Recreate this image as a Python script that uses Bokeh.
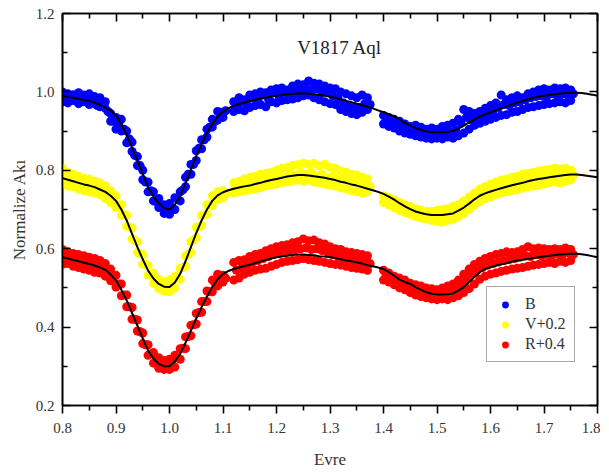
from bokeh.plotting import figure
from bokeh.models import (Range1d, LinearAxis, FixedTicker, PrintfTickFormatter,
                          CustomJSTickFormatter, Legend, LegendItem)
from bokeh.core.properties import value
from bokeh.embed import file_html
from bokeh.resources import INLINE

# ---------------- data ----------------
title_text = ["V1817 Aql"]
series_labels = ["B", "V+0.2", "R+0.4"]
x_label = "Evre"
y_label = "Normalize Akı"

x_ticks = [0.8, 0.9, 1.0, 1.1, 1.2, 1.3, 1.4, 1.5, 1.6, 1.7, 1.8]
x_minor = [0.85, 0.95, 1.05, 1.15, 1.25, 1.35, 1.45, 1.55, 1.65, 1.75]
y_ticks = [0.2, 0.4, 0.6, 0.8, 1.0, 1.2]
y_minor = [0.3, 0.5, 0.7, 0.9, 1.1]

phase = [0.80, 0.81, 0.82, 0.83, 0.84, 0.85, 0.86, 0.87, 0.88, 0.89,
         0.90, 0.91, 0.92, 0.93, 0.94, 0.95, 0.96, 0.97, 0.98, 0.99,
         1.00, 1.01, 1.02, 1.03, 1.04, 1.05, 1.06, 1.07, 1.08, 1.09, 1.10,
         1.12, 1.13, 1.14, 1.15, 1.16, 1.17, 1.18, 1.19, 1.20, 1.21, 1.22,
         1.23, 1.24, 1.25, 1.26, 1.27, 1.28, 1.29, 1.30, 1.31, 1.32, 1.33,
         1.34, 1.35, 1.36, 1.37,
         1.40, 1.41, 1.42, 1.43, 1.44, 1.45, 1.46, 1.47, 1.48, 1.49, 1.50,
         1.51, 1.52, 1.53, 1.54, 1.55, 1.56, 1.57, 1.58, 1.59, 1.60, 1.61,
         1.62, 1.63, 1.64, 1.65, 1.66, 1.67, 1.68, 1.69, 1.70, 1.71, 1.72,
         1.73, 1.74, 1.75]

phase_mid = [0.805, 0.815, 0.825, 0.835, 0.845, 0.855, 0.865, 0.875, 0.885, 0.895,
             0.905, 0.915, 0.925, 0.935, 0.945, 0.955, 0.965, 0.975, 0.985, 0.995,
             1.005, 1.015, 1.025, 1.035, 1.045, 1.055, 1.065, 1.075, 1.085, 1.095, 1.105,
             1.125, 1.135, 1.145, 1.155, 1.165, 1.175, 1.185, 1.195, 1.205, 1.215, 1.225,
             1.235, 1.245, 1.255, 1.265, 1.275, 1.285, 1.295, 1.305, 1.315, 1.325, 1.335,
             1.345, 1.355, 1.365, 1.375,
             1.405, 1.415, 1.425, 1.435, 1.445, 1.455, 1.465, 1.475, 1.485, 1.495, 1.505,
             1.515, 1.525, 1.535, 1.545, 1.555, 1.565, 1.575, 1.585, 1.595, 1.605, 1.615,
             1.625, 1.635, 1.645, 1.655, 1.665, 1.675, 1.685, 1.695, 1.705, 1.715, 1.725,
             1.735, 1.745, 1.755]

B_hi = [1.000, 0.995, 0.993, 0.998, 0.992, 0.995, 0.988, 0.985, 0.975, 0.945,
        0.935, 0.930, 0.900, 0.872, 0.835, 0.800, 0.770, 0.745, 0.728, 0.712,
        0.715, 0.730, 0.745, 0.782, 0.815, 0.850, 0.878, 0.905, 0.930, 0.950, 0.945,
        0.975, 0.985, 0.980, 0.992, 0.995, 1.000, 0.998, 1.005, 1.008, 1.010, 1.005,
        1.015, 1.020, 1.018, 1.028, 1.022, 1.020, 1.015, 1.010, 1.008, 1.000, 0.995,
        0.990, 0.985, 0.992, 0.985,
        0.940, 0.935, 0.930, 0.925, 0.918, 0.912, 0.915, 0.910, 0.905, 0.908, 0.905,
        0.912, 0.915, 0.920, 0.930, 0.955, 0.950, 0.945, 0.950, 0.958, 0.965, 0.972,
        0.992, 0.980, 0.985, 0.990, 0.985, 0.995, 1.000, 1.005, 1.008, 1.005, 1.010,
        1.008, 1.010, 1.005]
B_mid = [0.992, 0.982, 0.988, 0.975, 0.983, 0.980, 0.965, 0.970, 0.950, 0.925,
         0.918, 0.905, 0.880, 0.838, 0.812, 0.770, 0.748, 0.720, 0.708, 0.698,
         0.702, 0.726, 0.750, 0.790, 0.815, 0.856, 0.878, 0.910, 0.925, 0.948, 0.952,
         0.960, 0.975, 0.968, 0.985, 0.978, 0.992, 0.982, 0.998, 0.988, 1.000, 0.995,
         1.005, 1.000, 1.010, 1.005, 1.008, 0.998, 1.000, 0.990, 0.985, 0.972, 0.965,
         0.962, 0.960, 0.970, 0.968,
         0.930, 0.922, 0.918, 0.910, 0.905, 0.900, 0.896, 0.893, 0.892, 0.894, 0.890,
         0.896, 0.898, 0.902, 0.920, 0.935, 0.928, 0.935, 0.940, 0.945, 0.952, 0.960,
         0.968, 0.965, 0.972, 0.975, 0.980, 0.985, 0.988, 0.990, 0.988, 0.995, 0.990,
         0.995, 0.992, 0.995]
B_lo = [0.975, 0.972, 0.978, 0.970, 0.975, 0.968, 0.970, 0.962, 0.958, 0.925,
        0.905, 0.900, 0.870, 0.848, 0.812, 0.776, 0.745, 0.722, 0.705, 0.690,
        0.688, 0.700, 0.722, 0.758, 0.790, 0.825, 0.855, 0.885, 0.910, 0.928, 0.935,
        0.950, 0.955, 0.952, 0.960, 0.965, 0.968, 0.962, 0.975, 0.972, 0.978, 0.980,
        0.982, 0.985, 0.990, 0.992, 0.985, 0.980, 0.975, 0.970, 0.968, 0.955, 0.950,
        0.945, 0.942, 0.948, 0.955,
        0.918, 0.912, 0.908, 0.900, 0.895, 0.892, 0.888, 0.885, 0.882, 0.880, 0.882,
        0.880, 0.885, 0.882, 0.888, 0.895, 0.905, 0.915, 0.920, 0.925, 0.930, 0.935,
        0.940, 0.942, 0.948, 0.950, 0.955, 0.960, 0.962, 0.965, 0.968, 0.970, 0.972,
        0.975, 0.972, 0.978]

V_hi = [0.805, 0.795, 0.790, 0.785, 0.780, 0.778, 0.772, 0.768, 0.760, 0.748,
        0.735, 0.712, 0.685, 0.652, 0.618, 0.585, 0.558, 0.538, 0.522, 0.515,
        0.520, 0.530, 0.550, 0.582, 0.618, 0.655, 0.685, 0.712, 0.735, 0.745, 0.748,
        0.768, 0.772, 0.778, 0.782, 0.785, 0.790, 0.792, 0.795, 0.800, 0.805, 0.808,
        0.812, 0.815, 0.818, 0.815, 0.818, 0.812, 0.815, 0.808, 0.805, 0.798, 0.795,
        0.790, 0.788, 0.782, 0.778,
        0.735, 0.730, 0.725, 0.718, 0.712, 0.708, 0.702, 0.698, 0.695, 0.695, 0.698,
        0.700, 0.702, 0.708, 0.712, 0.722, 0.732, 0.742, 0.752, 0.758, 0.765, 0.770,
        0.775, 0.778, 0.782, 0.785, 0.790, 0.792, 0.795, 0.798, 0.800, 0.802, 0.805,
        0.803, 0.805, 0.800]
V_mid = [0.782, 0.776, 0.772, 0.765, 0.764, 0.758, 0.755, 0.750, 0.742, 0.728,
         0.712, 0.688, 0.655, 0.622, 0.588, 0.560, 0.535, 0.518, 0.505, 0.502,
         0.508, 0.525, 0.552, 0.586, 0.622, 0.656, 0.686, 0.711, 0.729, 0.738, 0.740,
         0.756, 0.760, 0.765, 0.762, 0.772, 0.768, 0.780, 0.775, 0.785, 0.782, 0.792,
         0.788, 0.795, 0.790, 0.795, 0.785, 0.790, 0.780, 0.785, 0.775, 0.778, 0.768,
         0.770, 0.762, 0.765, 0.758,
         0.728, 0.722, 0.715, 0.708, 0.702, 0.695, 0.690, 0.686, 0.684, 0.682, 0.684,
         0.686, 0.690, 0.695, 0.702, 0.710, 0.722, 0.732, 0.740, 0.745, 0.750, 0.755,
         0.760, 0.762, 0.765, 0.772, 0.775, 0.778, 0.782, 0.785, 0.785, 0.788, 0.790,
         0.790, 0.792, 0.788]
V_lo = [0.765, 0.760, 0.758, 0.752, 0.748, 0.745, 0.742, 0.738, 0.728, 0.718,
        0.705, 0.685, 0.658, 0.625, 0.590, 0.560, 0.532, 0.512, 0.498, 0.492,
        0.490, 0.500, 0.522, 0.555, 0.590, 0.628, 0.660, 0.688, 0.710, 0.725, 0.730,
        0.742, 0.745, 0.748, 0.750, 0.752, 0.755, 0.760, 0.762, 0.765, 0.768, 0.770,
        0.772, 0.775, 0.772, 0.775, 0.770, 0.768, 0.765, 0.762, 0.760, 0.755, 0.752,
        0.748, 0.745, 0.742, 0.745,
        0.718, 0.712, 0.705, 0.698, 0.692, 0.688, 0.682, 0.678, 0.675, 0.672, 0.670,
        0.668, 0.672, 0.675, 0.682, 0.690, 0.700, 0.712, 0.720, 0.728, 0.732, 0.738,
        0.742, 0.745, 0.748, 0.750, 0.755, 0.758, 0.760, 0.762, 0.765, 0.768, 0.770,
        0.768, 0.772, 0.775]

R_hi = [0.598, 0.592, 0.588, 0.585, 0.582, 0.578, 0.575, 0.570, 0.562, 0.548,
        0.532, 0.510, 0.482, 0.450, 0.418, 0.385, 0.355, 0.335, 0.322, 0.315,
        0.318, 0.328, 0.345, 0.375, 0.405, 0.435, 0.465, 0.492, 0.520, 0.535, 0.532,
        0.565, 0.570, 0.572, 0.580, 0.585, 0.588, 0.595, 0.600, 0.605, 0.608, 0.610,
        0.615, 0.618, 0.625, 0.620, 0.622, 0.615, 0.612, 0.605, 0.600, 0.598, 0.592,
        0.590, 0.588, 0.585, 0.582,
        0.545, 0.538, 0.530, 0.525, 0.520, 0.512, 0.508, 0.505, 0.500, 0.498, 0.495,
        0.500, 0.505, 0.510, 0.520, 0.535, 0.548, 0.560, 0.568, 0.575, 0.580, 0.585,
        0.588, 0.592, 0.590, 0.592, 0.598, 0.605, 0.600, 0.602, 0.600, 0.598, 0.600,
        0.598, 0.602, 0.598]
R_mid = [0.580, 0.575, 0.572, 0.568, 0.565, 0.560, 0.558, 0.552, 0.545, 0.528,
         0.510, 0.482, 0.452, 0.420, 0.388, 0.355, 0.332, 0.315, 0.303, 0.300,
         0.305, 0.322, 0.346, 0.376, 0.406, 0.437, 0.465, 0.490, 0.512, 0.528, 0.525,
         0.545, 0.550, 0.555, 0.565, 0.570, 0.575, 0.580, 0.585, 0.588, 0.590, 0.595,
         0.598, 0.600, 0.602, 0.598, 0.600, 0.595, 0.592, 0.585, 0.580, 0.575, 0.572,
         0.570, 0.568, 0.565, 0.562,
         0.532, 0.525, 0.518, 0.510, 0.505, 0.498, 0.492, 0.488, 0.485, 0.482, 0.485,
         0.488, 0.490, 0.498, 0.508, 0.520, 0.535, 0.545, 0.552, 0.558, 0.562, 0.566,
         0.570, 0.572, 0.575, 0.578, 0.582, 0.580, 0.585, 0.582, 0.585, 0.582, 0.588,
         0.585, 0.590, 0.585]
R_lo = [0.560, 0.562, 0.555, 0.552, 0.548, 0.545, 0.540, 0.538, 0.530, 0.518,
        0.502, 0.480, 0.452, 0.420, 0.390, 0.358, 0.328, 0.308, 0.295, 0.292,
        0.292, 0.298, 0.318, 0.345, 0.378, 0.408, 0.438, 0.465, 0.490, 0.505, 0.515,
        0.520, 0.525, 0.535, 0.540, 0.545, 0.548, 0.550, 0.555, 0.560, 0.565, 0.568,
        0.570, 0.572, 0.575, 0.572, 0.570, 0.568, 0.565, 0.562, 0.560, 0.558, 0.555,
        0.552, 0.550, 0.548, 0.545,
        0.520, 0.515, 0.508, 0.500, 0.495, 0.488, 0.482, 0.478, 0.475, 0.472, 0.470,
        0.472, 0.470, 0.475, 0.480, 0.488, 0.498, 0.510, 0.522, 0.530, 0.535, 0.538,
        0.542, 0.545, 0.548, 0.550, 0.552, 0.555, 0.558, 0.560, 0.562, 0.565, 0.562,
        0.568, 0.565, 0.570]

fit_phase = [0.80, 0.81, 0.82, 0.83, 0.84, 0.85, 0.86, 0.87, 0.88, 0.89,
             0.90, 0.91, 0.92, 0.93, 0.94, 0.95, 0.96, 0.97, 0.98, 0.99,
             1.00, 1.01, 1.02, 1.03, 1.04, 1.05, 1.06, 1.07, 1.08, 1.09,
             1.10, 1.11, 1.12, 1.13, 1.14, 1.15, 1.16, 1.17, 1.18, 1.19,
             1.20, 1.21, 1.22, 1.23, 1.24, 1.25, 1.26, 1.27, 1.28, 1.29,
             1.30, 1.31, 1.32, 1.33, 1.34, 1.35, 1.36, 1.37, 1.38, 1.39,
             1.40, 1.41, 1.42, 1.43, 1.44, 1.45, 1.46, 1.47, 1.48, 1.49,
             1.50, 1.51, 1.52, 1.53, 1.54, 1.55, 1.56, 1.57, 1.58, 1.59,
             1.60, 1.61, 1.62, 1.63, 1.64, 1.65, 1.66, 1.67, 1.68, 1.69,
             1.70, 1.71, 1.72, 1.73, 1.74, 1.75, 1.76, 1.77, 1.78, 1.79, 1.80]

B_fit = [0.990, 0.987, 0.985, 0.982, 0.979, 0.977, 0.973, 0.967, 0.960, 0.952,
         0.940, 0.918, 0.890, 0.858, 0.825, 0.790, 0.757, 0.733, 0.716, 0.704,
         0.700, 0.712, 0.735, 0.768, 0.802, 0.836, 0.867, 0.895, 0.918, 0.937,
         0.950, 0.958, 0.965, 0.969, 0.973, 0.977, 0.980, 0.983, 0.986, 0.988,
         0.990, 0.992, 0.994, 0.995, 0.996, 0.996, 0.995, 0.994, 0.992, 0.990,
         0.988, 0.985, 0.981, 0.977, 0.974, 0.970, 0.966, 0.962, 0.958, 0.953,
         0.948, 0.943, 0.937, 0.929, 0.921, 0.914, 0.908, 0.903, 0.899, 0.897,
         0.897, 0.897, 0.898, 0.900, 0.906, 0.914, 0.922, 0.930, 0.937, 0.943,
         0.948, 0.953, 0.958, 0.963, 0.968, 0.973, 0.977, 0.981, 0.985, 0.988,
         0.990, 0.992, 0.994, 0.996, 0.997, 0.998, 0.998, 0.997, 0.995, 0.993, 0.990]
V_fit = [0.780, 0.776, 0.772, 0.768, 0.764, 0.761, 0.757, 0.751, 0.745, 0.735,
         0.722, 0.700, 0.672, 0.638, 0.604, 0.573, 0.544, 0.524, 0.510, 0.503,
         0.502, 0.514, 0.536, 0.568, 0.604, 0.640, 0.672, 0.700, 0.722, 0.736,
         0.744, 0.749, 0.753, 0.756, 0.759, 0.761, 0.765, 0.768, 0.772, 0.775,
         0.778, 0.781, 0.784, 0.786, 0.788, 0.788, 0.787, 0.785, 0.783, 0.781,
         0.778, 0.775, 0.771, 0.768, 0.764, 0.761, 0.757, 0.753, 0.749, 0.745,
         0.740, 0.733, 0.725, 0.716, 0.708, 0.701, 0.695, 0.691, 0.688, 0.686,
         0.686, 0.686, 0.688, 0.690, 0.697, 0.705, 0.715, 0.726, 0.735, 0.741,
         0.746, 0.750, 0.754, 0.758, 0.762, 0.765, 0.768, 0.772, 0.775, 0.778,
         0.780, 0.782, 0.784, 0.786, 0.788, 0.789, 0.789, 0.788, 0.786, 0.784, 0.782]
R_fit = [0.578, 0.575, 0.571, 0.568, 0.564, 0.561, 0.557, 0.552, 0.546, 0.534,
         0.519, 0.495, 0.468, 0.436, 0.404, 0.371, 0.340, 0.320, 0.306, 0.300,
         0.300, 0.312, 0.332, 0.360, 0.391, 0.422, 0.451, 0.478, 0.502, 0.522,
         0.536, 0.543, 0.548, 0.552, 0.556, 0.559, 0.563, 0.567, 0.571, 0.575,
         0.578, 0.580, 0.582, 0.584, 0.585, 0.585, 0.584, 0.583, 0.581, 0.580,
         0.578, 0.576, 0.573, 0.570, 0.568, 0.565, 0.562, 0.558, 0.555, 0.552,
         0.548, 0.540, 0.531, 0.521, 0.515, 0.510, 0.502, 0.495, 0.489, 0.485,
         0.483, 0.483, 0.484, 0.486, 0.493, 0.502, 0.515, 0.528, 0.540, 0.548,
         0.553, 0.557, 0.560, 0.563, 0.567, 0.570, 0.572, 0.574, 0.576, 0.578,
         0.580, 0.582, 0.584, 0.585, 0.586, 0.587, 0.587, 0.586, 0.584, 0.581, 0.578]

# ---------------- figure ----------------
FONT = "Liberation Serif"
p = figure(frame_width=535, frame_height=392,
           x_range=Range1d(0.8, 1.8), y_range=Range1d(0.2, 1.2),
           output_backend="svg", toolbar_location=None,
           min_border_left=62, min_border_right=3, min_border_top=13, min_border_bottom=51,
           background_fill_color="white", border_fill_color="white")
p.xgrid.visible = False
p.ygrid.visible = False
p.outline_line_color = "black"
p.outline_line_width = 1.6

colors = ["#0000FF", "#FFFF00", "#FF0000"]
his = [B_hi, V_hi, R_hi]
mids = [B_mid, V_mid, R_mid]
los = [B_lo, V_lo, R_lo]
fits = [B_fit, V_fit, R_fit]

legend_items = []
for lab, col, hi, mid, lo in zip(series_labels, colors, his, mids, los):
    r1 = p.scatter(phase, hi, size=9, marker="circle", fill_color=col, line_color=None)
    p.scatter(phase_mid, mid, size=9, marker="circle", fill_color=col, line_color=None)
    p.scatter(phase, lo, size=9, marker="circle", fill_color=col, line_color=None)
    legend_items.append(LegendItem(label=lab, renderers=[r1]))

for f in fits:
    p.line(fit_phase, f, line_color="black", line_width=2)

p.text(x=[1.318], y=[1.113], text=title_text, text_font=value(FONT),
       text_font_size="19px", text_color="#222222",
       text_align="center", text_baseline="middle")

# axes
fmt = PrintfTickFormatter(format="%.1f")
blank = CustomJSTickFormatter(code="return ''")

ax = p.xaxis[0]
ax.ticker = FixedTicker(ticks=x_ticks, minor_ticks=x_minor)
ax.formatter = fmt
ax.axis_label = x_label
ay = p.yaxis[0]
ay.ticker = FixedTicker(ticks=y_ticks, minor_ticks=y_minor)
ay.formatter = fmt
ay.axis_label = y_label

for a in (ax, ay):
    a.axis_line_color = "black"
    a.axis_line_width = 1.6
    a.major_tick_line_color = "black"
    a.minor_tick_line_color = "black"
    a.major_tick_line_width = 1.6
    a.minor_tick_line_width = 1.6
    a.major_label_text_font = FONT
    a.major_label_text_font_size = "15px"
    a.major_label_text_color = "#333333"
    a.axis_label_text_font = FONT
    a.axis_label_text_font_size = "17px"
    a.axis_label_text_font_style = "normal"
    a.axis_label_text_color = "#333333"

ax.major_tick_in = 0
ax.major_tick_out = 8
ax.minor_tick_in = 0
ax.minor_tick_out = 5
ax.major_label_standoff = 9
ax.axis_label_standoff = 14

ay.major_tick_in = 8
ay.major_tick_out = 0
ay.minor_tick_in = 5
ay.minor_tick_out = 0
ay.major_label_standoff = 8
ay.axis_label_standoff = 4

ar = LinearAxis(ticker=FixedTicker(ticks=y_ticks, minor_ticks=y_minor),
                formatter=blank, major_tick_in=8, major_tick_out=0,
                minor_tick_in=5, minor_tick_out=0, axis_line_color="black",
                axis_line_width=1.6, major_tick_line_width=1.6, minor_tick_line_width=1.6,
                major_label_standoff=0)
at = LinearAxis(ticker=FixedTicker(ticks=x_ticks, minor_ticks=x_minor),
                formatter=blank, major_tick_in=8, major_tick_out=0,
                minor_tick_in=5, minor_tick_out=0, axis_line_color="black",
                axis_line_width=1.6, major_tick_line_width=1.6, minor_tick_line_width=1.6,
                major_label_standoff=0)
p.add_layout(ar, "right")
p.add_layout(at, "above")

legend = Legend(items=legend_items, location=(424, 43),
                label_text_font=FONT, label_text_font_size="16px",
                label_text_color="#333333",
                border_line_color="#555555", border_line_width=1.5,
                background_fill_color="white", background_fill_alpha=1,
                glyph_width=20, glyph_height=17, label_height=17,
                label_standoff=10, spacing=2, padding=8, margin=0)
p.add_layout(legend, "center")

open("out.html", "w").write(file_html(p, INLINE))
